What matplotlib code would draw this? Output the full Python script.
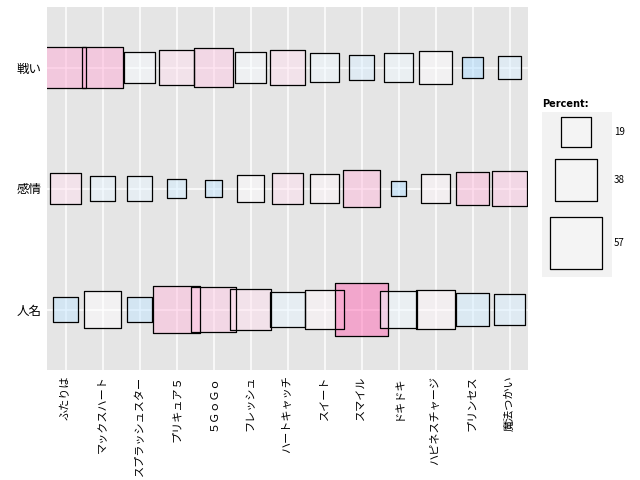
import numpy as np
import matplotlib
matplotlib.use('Agg')
import matplotlib.pyplot as plt
from matplotlib.colors import LinearSegmentedColormap

plt.rcParams['font.family'] = ['Noto Sans CJK JP', 'DejaVu Sans']

# categories
series = ['ふたりは', 'マックスハート', 'スプラッシュスター', 'プリキュア５', '５ＧｏＧｏ',
          'フレッシュ', 'ハートキャッチ', 'スイート', 'スマイル', 'ドキドキ',
          'ハピネスチャージ', 'プリンセス', '魔法つかい']
words = ['人名', '感情', '戦い']  # bottom to top

pct_jinmei = [14.3, 29.0, 14.3, 44.8, 41.0, 35.6, 24.5, 30.6, 57.3, 27.5, 30.6, 21.7, 19.1]
pct_kanjo = [19.5, 12.2, 12.2, 7.6, 6.1, 15.4, 19.1, 16.6, 27.5, 5.4, 16.6, 21.7, 26.0]
pct_tatakai = [35.6, 35.6, 20.4, 26.0, 30.6, 19.1, 26.4, 18.4, 14.3, 18.4, 21.7, 8.7, 11.2]

# colour (residual-like) values, blue < 0 < pink
res_jinmei = [-0.4, 0.0, -0.4, 0.45, 0.35, 0.2, -0.15, 0.05, 1.0, -0.1, 0.05, -0.3, -0.25]
res_kanjo = [0.2, -0.15, -0.15, -0.3, -0.4, 0.0, 0.2, 0.05, 0.45, -0.5, 0.05, 0.45, 0.35]
res_tatakai = [0.55, 0.55, -0.05, 0.2, 0.35, -0.05, 0.2, -0.1, -0.25, -0.1, 0.0, -0.55, -0.25]

legend_vals = [19, 38, 57]

pcts = [pct_jinmei, pct_kanjo, pct_tatakai]
ress = [res_jinmei, res_kanjo, res_tatakai]

cmap = LinearSegmentedColormap.from_list('bwp', ['#6AC2FF', '#FFFFFF', '#FF69B4'])
size_k = 24.5  # points^2 per percent

fig = plt.figure(figsize=(6.4, 4.8), dpi=100)
ax = fig.add_axes([47 / 640, 110 / 480, 481 / 640, 363 / 480])
ax.set_facecolor('#E5E5E5')

x = np.arange(1, len(series) + 1)
for i, w in enumerate(words):
    y = np.full(len(series), i + 1)
    ax.scatter(x, y, s=np.array(pcts[i]) * size_k, marker='s',
               c=ress[i], cmap=cmap, vmin=-1, vmax=1, alpha=0.5,
               edgecolors='none', zorder=3)
    ax.scatter(x, y, s=np.array(pcts[i]) * size_k, marker='s',
               facecolors='none', edgecolors='black', linewidths=0.9, zorder=4)

ax.set_xlim(0.5, 13.5)
ax.set_ylim(0.5, 3.5)
ax.set_xticks(x)
ax.set_xticklabels(series, rotation=90, fontsize=8)
ax.set_yticks([1, 2, 3])
ax.set_yticklabels(words, fontsize=9)
ax.tick_params(length=0, pad=4)
ax.grid(True, color='white', linewidth=1.1, zorder=0)
ax.set_axisbelow(True)
for sp in ax.spines.values():
    sp.set_visible(False)

# legend
lax = fig.add_axes([542 / 640, 203 / 480, 70 / 640, 165 / 480])
lax.set_facecolor('#F2F2F2')
lax.set_xlim(542, 612)
lax.set_ylim(277, 112)
ly = [132, 180, 243]
lax.scatter([576] * 3, ly, s=np.array(legend_vals) * size_k, marker='s',
            facecolors='#F4F4F4', edgecolors='black', linewidths=0.9, zorder=3)
for v, yy in zip(legend_vals, ly):
    fig.text(614 / 640, 1 - yy / 480, str(v), fontsize=7, va='center', ha='left')
lax.set_xticks([])
lax.set_yticks([])
for sp in lax.spines.values():
    sp.set_visible(False)
fig.text(542 / 640, 1 - 104 / 480, 'Percent:', fontsize=7, fontweight='bold',
         va='center', ha='left', family='DejaVu Sans')

fig.savefig('out.png', dpi=100)
